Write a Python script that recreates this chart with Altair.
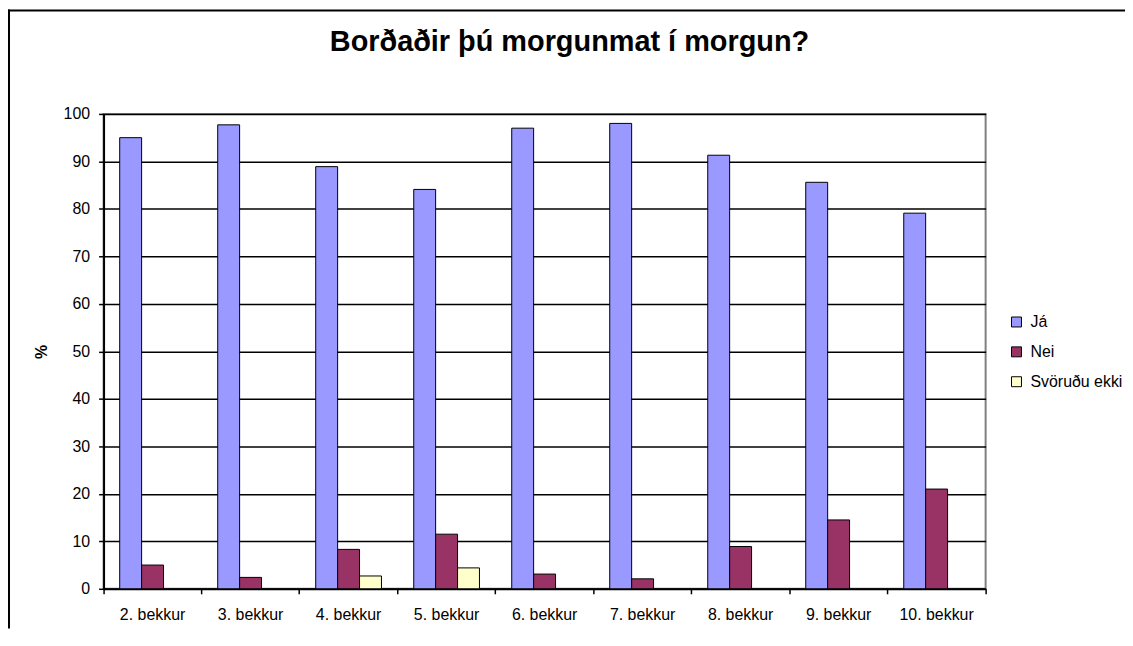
import altair as alt
import pandas as pd

categories = ["2. bekkur", "3. bekkur", "4. bekkur", "5. bekkur", "6. bekkur",
              "7. bekkur", "8. bekkur", "9. bekkur", "10. bekkur"]
ja = [95.0, 97.7, 88.9, 84.1, 97.0, 98.0, 91.3, 85.6, 79.1]
nei = [5.0, 2.4, 8.3, 11.5, 3.1, 2.1, 8.9, 14.5, 21.0]
svorudu = [None, None, 2.7, 4.4, None, None, None, None, None]
series = ["Já", "Nei", "Svöruðu ekki"]
colors = ["#9999FF", "#993366", "#FFFFCC"]
title_text = "Borðaðir þú morgunmat í morgun?"

rows = []
for s, vals in zip(series, [ja, nei, svorudu]):
    for c, v in zip(categories, vals):
        if v is not None:
            rows.append({"bekkur": c, "svar": s, "gildi": v})
df = pd.DataFrame(rows)

W, H = 886, 477
FONT = "Liberation Sans"

bars = alt.Chart(df).mark_bar(stroke="black", strokeWidth=1).encode(
    x=alt.X("bekkur:N", sort=categories,
            scale=alt.Scale(paddingInner=0, paddingOuter=0),
            axis=alt.Axis(title=None, labelAngle=0, bandPosition=1, tickExtra=True,
                          tickSize=5, tickColor="black", tickWidth=1.5,
                          domainColor="black", domainWidth=2,
                          labelPadding=13, labelFont=FONT, labelFontSize=16,
                          labelColor="black", grid=False)),
    xOffset=alt.XOffset("svar:N", sort=series,
                        scale=alt.Scale(domain=series, paddingInner=0, paddingOuter=0.736)),
    y=alt.Y("gildi:Q", scale=alt.Scale(domain=[0, 100], nice=False),
            axis=alt.Axis(title="%", values=list(range(0, 101, 10)), tickSize=5,
                          tickColor="black", tickWidth=1.5,
                          domainColor="black", domainWidth=2,
                          labelPadding=9, labelFont=FONT, labelFontSize=16,
                          labelColor="black",
                          grid=True, gridColor="black", gridWidth=1.5,
                          titleX=-62, titleY=238.5, titleAngle=270,
                          titleAlign="center", titleBaseline="middle",
                          titleFontSize=16, titleFontWeight="bold", titleFont=FONT,
                          titleColor="black")),
    color=alt.Color("svar:N", sort=series,
                    scale=alt.Scale(domain=series, range=colors),
                    legend=alt.Legend(title=None, orient="none", legendX=909, legendY=201,
                                      symbolType="square", symbolSize=100,
                                      symbolStrokeColor="black", symbolStrokeWidth=1,
                                      symbolOpacity=1, labelFontSize=16, labelFont=FONT,
                                      labelColor="black", labelOffset=6, rowPadding=14,
                                      padding=0)),
)

one = pd.DataFrame({"a": [0]})
title = alt.Chart(one).mark_text(
    text=title_text, font=FONT, fontSize=29, fontWeight="bold", color="black",
    align="center", baseline="alphabetic"
).encode(x=alt.value(468), y=alt.value(-63))
frame_left = alt.Chart(one).mark_rule(color="black", strokeWidth=2).encode(
    x=alt.value(-95), y=alt.value(-105), y2=alt.value(H + 40))
frame_top = alt.Chart(one).mark_rule(color="black", strokeWidth=2).encode(
    x=alt.value(-96), x2=alt.value(W + 160), y=alt.value(-104))

chart = alt.layer(bars, title, frame_left, frame_top).properties(
    width=W, height=H,
    autosize=alt.AutoSizeParams(type="none"),
    padding={"left": 96, "top": 105, "right": 140, "bottom": 40},
    background="white",
).configure_view(
    stroke="#808080", strokeWidth=2
)

chart.save("out.html", embed_options={"renderer": "svg", "actions": False})
